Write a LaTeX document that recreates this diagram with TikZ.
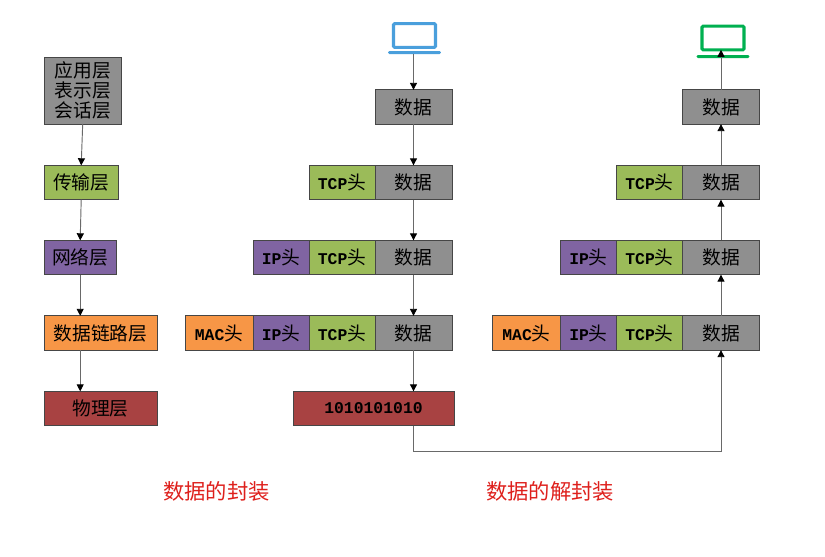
\documentclass[tikz,border=0pt]{standalone}
\usepackage{fontspec}
\setmainfont{Liberation Mono}
\newfontfamily\cjk{Noto Sans CJK SC}
\newcommand{\hdrtail}{{\cjk\mdseries\fontsize{16}{20}\selectfont 头}}
\definecolor{lygray}{RGB}{143,143,143}
\definecolor{lygreen}{RGB}{155,187,89}
\definecolor{lypurple}{RGB}{128,100,162}
\definecolor{lyorange}{RGB}{247,150,70}
\definecolor{lyred}{RGB}{168,66,66}
\definecolor{lyline}{RGB}{70,70,70}
\definecolor{arrowline}{RGB}{105,105,105}
\definecolor{lapblue}{RGB}{74,159,220}
\definecolor{lapgreen}{RGB}{0,176,80}
\definecolor{capred}{RGB}{222,32,28}
\usetikzlibrary{arrows.meta,positioning}

\begin{document}
\begin{tikzpicture}[x=0.03cm,y=-0.03cm,
  box/.style={draw=lyline,line width=0.7pt,outer sep=0pt,inner sep=0pt,align=center,
    minimum height=1.03cm,font=\fontsize{14}{20}\selectfont\bfseries},
  databox/.style={box,fill=lygray,minimum width=2.31cm},
  tcpbox/.style={box,fill=lygreen,minimum width=1.98cm},
  ipbox/.style={box,fill=lypurple,minimum width=1.68cm},
  macbox/.style={box,fill=lyorange,minimum width=2.04cm},
  screen/.style={draw=#1,line width=2.6pt,rounded corners=1pt,fill=white,outer sep=0pt,
    minimum width=1.26cm,minimum height=0.71cm},
  lapbase/.style={fill=#1,rounded corners=1pt,outer sep=0pt,inner sep=0pt,
    minimum width=1.58cm,minimum height=0.09cm},
  link/.style={-{Triangle[length=6pt,width=6pt,color=black]},draw=arrowline,line width=0.8pt},
  caption/.style={font=\cjk\fontsize{18.2}{20}\selectfont,text=capred},
  cn/.style={font=\cjk\fontsize{16}{20}\selectfont}
]
  \useasboundingbox (0,0) rectangle (825,556);

  % Layers
  \node[box,cn,fill=lygray,minimum width=2.32cm,minimum height=2.01cm] (app) at (82.7,90.5)
    {应用层\\[-3pt]表示层\\[-3pt]会话层};
  \node[box,cn,fill=lygreen,minimum width=2.23cm] (trans) at (81.2,182.5) {传输层};
  \node[box,cn,fill=lypurple,minimum width=2.17cm] (net) at (80.2,257.5) {网络层};
  \node[box,cn,fill=lyorange,minimum width=3.39cm] (mac) at (100.5,333) {数据链路层};
  \node[box,cn,fill=lyred,minimum width=3.39cm] (phy) at (100.5,408.5) {物理层};

  % Encapsulation
  \node[screen=lapblue] (lapa) at (414.5,35.5) {};
  \node[lapbase=lapblue] (basea) at (414.5,52.5) {};
  \node[databox,cn] (dataa) at (413.5,107) {数据};
  \node[databox,cn] (datab) at (413.5,182.5) {数据};
  \node[tcpbox,left=0pt of datab] (tcpb) {TCP\hdrtail};
  \node[databox,cn] (datac) at (413.5,257.5) {数据};
  \node[tcpbox,left=0pt of datac] (tcpc) {TCP\hdrtail};
  \node[ipbox,left=0pt of tcpc] (ipc) {IP\hdrtail};
  \node[databox,cn] (datad) at (413.5,333) {数据};
  \node[tcpbox,left=0pt of datad] (tcpd) {TCP\hdrtail};
  \node[ipbox,left=0pt of tcpd] (ipd) {IP\hdrtail};
  \node[macbox,left=0pt of ipd] (macd) {MAC\hdrtail};
  \node[box,fill=lyred,minimum width=4.83cm] (bits) at (373.5,408.5) {1010101010};

  % Decapsulation
  \node[screen=lapgreen] (lapb) at (723,38) {};
  \node[lapbase=lapgreen] (baseb) at (723,56.5) {};
  \node[databox,cn] (datae) at (721,107) {数据};
  \node[databox,cn] (dataf) at (721,182.5) {数据};
  \node[tcpbox,left=0pt of dataf] (tcpf) {TCP\hdrtail};
  \node[databox,cn] (datag) at (721,257.5) {数据};
  \node[tcpbox,left=0pt of datag] (tcpg) {TCP\hdrtail};
  \node[ipbox,left=0pt of tcpg] (ipg) {IP\hdrtail};
  \node[databox,cn] (datah) at (721,333) {数据};
  \node[tcpbox,left=0pt of datah] (tcph) {TCP\hdrtail};
  \node[ipbox,left=0pt of tcph] (iph) {IP\hdrtail};
  \node[macbox,left=0pt of iph] (mach) {MAC\hdrtail};

  % Captions
  \node[caption] (capa) at (216.5,491) {数据的封装};
  \node[caption] (capb) at (550,491) {数据的解封装};

  % Arrows
  \coordinate (turn) at (413.5,451);
  \draw[link] (app.south) -- (trans.north);
  \draw[link] (trans.south) -- (net.north);
  \draw[link] (net.south) -- (net.south |- mac.north);
  \draw[link] (net.south |- mac.south) -- (net.south |- phy.north);

  \draw[link] (basea.south -| dataa.north) -- (dataa.north);
  \draw[link] (dataa.south) -- (datab.north);
  \draw[link] (datab.south) -- (datac.north);
  \draw[link] (datac.south) -- (datad.north);
  \draw[link] (datad.south) -- (datad.south |- bits.north);
  \draw[link] (datad.south |- bits.south) -- (turn) -| (datah.south);

  \draw[link] (datah.north) -- (datag.south);
  \draw[link] (datag.north) -- (dataf.south);
  \draw[link] (dataf.north) -- (datae.south);
  \draw[link] (datae.north) -- (datae.north |- lapb.south);
\end{tikzpicture}
\end{document}
